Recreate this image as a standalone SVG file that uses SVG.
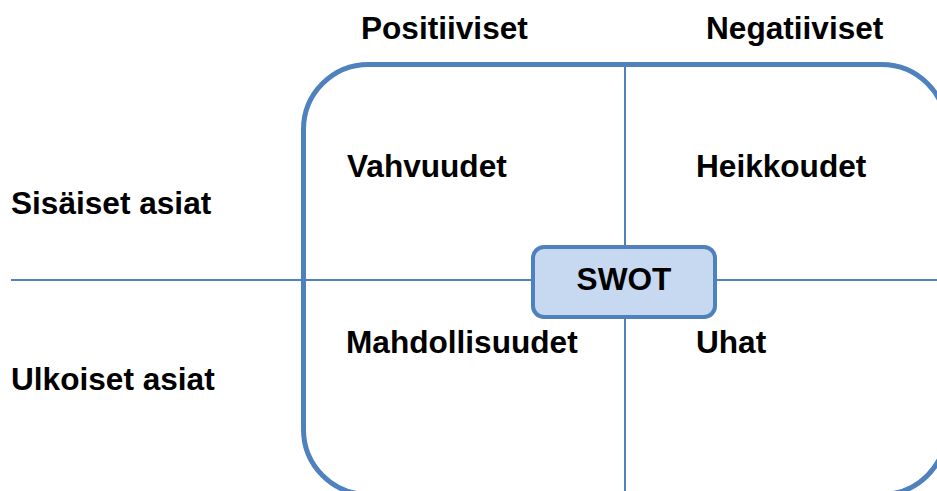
<svg xmlns="http://www.w3.org/2000/svg" width="937" height="491" viewBox="0 0 937 491">
<style>
text{font-family:"Liberation Sans",Arial,sans-serif;font-weight:bold;font-size:31.6px;fill:#000}
.ln{stroke:#4F81BD;stroke-width:2;fill:none}
</style>
<rect width="937" height="491" fill="#fff"/>
<g id="frame"><rect x="303.5" y="64.5" width="643" height="430" rx="65" ry="65" fill="none" stroke="#4F81BD" stroke-width="5"/></g>
<g id="connectors">
<line class="ln" x1="11" y1="280" x2="937" y2="280"/>
<line class="ln" x1="625" y1="64" x2="625" y2="491"/>
</g>
<g id="positiiviset"><text x="361" y="39">Positiiviset</text></g>
<g id="negatiiviset"><text x="706" y="39">Negatiiviset</text></g>
<g id="sisaiset"><text x="11" y="214">Sisäiset asiat</text></g>
<g id="ulkoiset"><text x="11" y="390">Ulkoiset asiat</text></g>
<g id="vahvuudet"><text x="347" y="177">Vahvuudet</text></g>
<g id="heikkoudet"><text x="696" y="177">Heikkoudet</text></g>
<g id="mahdollisuudet"><text x="346" y="353">Mahdollisuudet</text></g>
<g id="uhat"><text x="696" y="353">Uhat</text></g>
<g id="swot"><rect x="533" y="247" width="182" height="70" rx="11" ry="11" fill="#C6D9F1" stroke="#4F81BD" stroke-width="4"/><text x="624" y="290" text-anchor="middle">SWOT</text></g>
</svg>
